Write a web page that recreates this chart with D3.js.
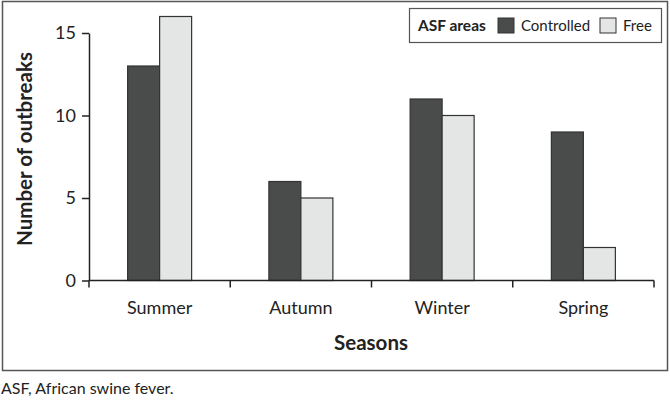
<!DOCTYPE html>
<html>
<head>
<meta charset="utf-8">
<script src="https://cdn.jsdelivr.net/npm/d3@7"></script>
<style>
  body { margin: 0; background: #fff; }
  text { font-family: Lato, "Open Sans", sans-serif; fill: #222; }
</style>
</head>
<body>
<svg id="chart"></svg>
<script>
const seasons = ["Summer", "Autumn", "Winter", "Spring"];
const areas = ["Controlled", "Free"];
const controlled = [13, 6, 11, 9];
const free = [16, 5, 10, 2];
const yTicks = [0, 5, 10, 15];

const colors = {Controlled: "#4a4c4b", Free: "#e4e6e5"};

const svgWidth = 670, svgHeight = 400;
const svg = d3.select('#chart')
    .attr("width", svgWidth)
    .attr("height", svgHeight);

// frame round the figure
svg.append("rect")
    .attr("x", 2.5).attr("y", 1.5)
    .attr("width", 665).attr("height", 369)
    .attr("fill", "none")
    .attr("stroke", "#555")
    .attr("stroke-width", 1.5);

const x = d3.scaleBand()
    .domain(seasons)
    .range([89, 654]);

const barWidth = 32;
const xSub = d3.scaleBand()
    .domain(areas)
    .range([x.bandwidth() / 2 - barWidth, x.bandwidth() / 2 + barWidth]);

const y = d3.scaleLinear()
    .domain([0, 15])
    .range([280.5, 33]);

const rows = seasons.map((s, i) => ({season: s, Controlled: controlled[i], Free: free[i]}));

const groups = svg.selectAll("g.season")
    .data(rows)
    .enter()
    .append("g")
    .attr("class", "season")
    .attr("transform", d => `translate(${x(d.season)},0)`);

groups.selectAll("rect")
    .data(d => areas.map(a => ({area: a, value: d[a]})))
    .enter()
    .append("rect")
    .attr("x", d => xSub(d.area))
    .attr("y", d => y(d.value))
    .attr("width", xSub.bandwidth())
    .attr("height", d => y(0) - y(d.value))
    .attr("fill", d => colors[d.area])
    .attr("stroke", "#333")
    .attr("stroke-width", 1.2);

// y axis
const yAxis = svg.append("g")
    .attr("transform", "translate(89,0)")
    .call(d3.axisLeft(y).tickValues(yTicks).tickSize(7).tickSizeOuter(0).tickPadding(6));
yAxis.select(".domain").attr("stroke", "#222").attr("stroke-width", 1.5);
yAxis.selectAll(".tick line").attr("stroke", "#222").attr("stroke-width", 1.5);
yAxis.selectAll(".tick text")
    .style("font-family", "Lato, sans-serif")
    .style("font-size", "18px")
    .attr("fill", "#222");

// x axis, ticks between the categories
const xAxis = svg.append("g")
    .attr("transform", `translate(0,${y(0)})`);
xAxis.append("line")
    .attr("x1", 89).attr("x2", 654)
    .attr("stroke", "#222").attr("stroke-width", 1.5);
xAxis.selectAll("line.tk")
    .data(seasons.concat(["end"]))
    .enter()
    .append("line")
    .attr("class", "tk")
    .attr("x1", (d, i) => 89 + i * x.step())
    .attr("x2", (d, i) => 89 + i * x.step())
    .attr("y1", 0).attr("y2", 7)
    .attr("stroke", "#222").attr("stroke-width", 1.5);
xAxis.selectAll("text")
    .data(seasons)
    .enter()
    .append("text")
    .attr("x", d => x(d) + x.bandwidth() / 2)
    .attr("y", 33)
    .attr("text-anchor", "middle")
    .style("font-size", "18px")
    .text(d => d);

// axis titles
svg.append("text")
    .attr("transform", "translate(32,149) rotate(-90)")
    .attr("text-anchor", "middle")
    .style("font-size", "20.5px")
    .style("font-weight", "bold")
    .text("Number of outbreaks");

svg.append("text")
    .attr("x", 371)
    .attr("y", 350)
    .attr("text-anchor", "middle")
    .style("font-size", "20.5px")
    .style("font-weight", "bold")
    .text("Seasons");

// legend
const legend = svg.append("g");
legend.append("rect")
    .attr("x", 409.5).attr("y", 8.5)
    .attr("width", 252).attr("height", 34)
    .attr("fill", "#fff")
    .attr("stroke", "#555")
    .attr("stroke-width", 1.2);
legend.append("text")
    .attr("x", 418).attr("y", 31)
    .style("font-size", "15.5px")
    .style("font-weight", "bold")
    .text("ASF areas");

const legendX = {Controlled: 498, Free: 600};
areas.forEach(a => {
    legend.append("rect")
        .attr("x", legendX[a]).attr("y", 18)
        .attr("width", 16).attr("height", 15)
        .attr("fill", colors[a])
        .attr("stroke", "#333");
    legend.append("text")
        .attr("x", legendX[a] + 23).attr("y", 31)
        .style("font-size", "15px")
        .text(a);
});

// footnote
svg.append("text")
    .attr("x", 1)
    .attr("y", 394)
    .style("font-size", "16px")
    .text("ASF, African swine fever.");
</script>
</body>
</html>
